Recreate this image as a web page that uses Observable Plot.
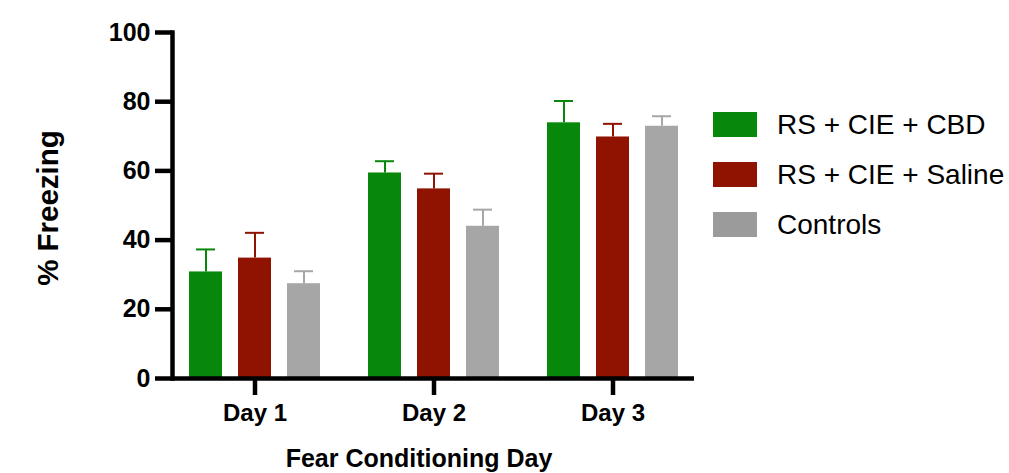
<!DOCTYPE html>
<html>
<head>
<meta charset="utf-8">
<script src="https://cdn.jsdelivr.net/npm/d3@7"></script>
<script src="https://cdn.jsdelivr.net/npm/@observablehq/plot@0.6"></script>
<style>
  html, body { margin: 0; padding: 0; background: #fff; }
  #wrap { position: relative; width: 1009px; height: 473px; font-family: "Liberation Sans", Arial, sans-serif; }
  #wrap svg { position: absolute; left: 0; top: 0; }
  .ytitle { position: absolute; left: 48px; top: 208px; transform: translate(-50%, -50%) rotate(-90deg); font-weight: bold; font-size: 29.5px; white-space: nowrap; color: #000; }
  .xtitle { position: absolute; left: 419px; top: 458px; transform: translate(-50%, -50%); font-weight: bold; font-size: 25px; white-space: nowrap; color: #000; }
  .legend { position: absolute; left: 713px; top: 112px; }
  .row { display: flex; align-items: center; height: 25px; margin-bottom: 25px; }
  .sw { width: 44px; height: 25px; margin-right: 20px; }
  .lab { font-size: 28px; color: #000; white-space: nowrap; }
</style>
</head>
<body>
<div id="wrap"></div>
<script>
// Data
const days = ["Day 1", "Day 2", "Day 3"];
const groups = ["RS + CIE + CBD", "RS + CIE + Saline", "Controls"];
const cbd = [30.8, 59.4, 73.9];
const cbdErr = [6.5, 3.4, 6.3];
const saline = [34.8, 54.8, 69.8];
const salineErr = [7.3, 4.4, 3.8];
const controls = [27.4, 44.0, 72.9];
const controlsErr = [3.6, 4.8, 2.9];
const yTicks = [0, 20, 40, 60, 80, 100];

const colors = ["#07880a", "#8f1300", "#a6a6a6"];
const legendColors = ["#07880a", "#8f1300", "#9b9b9b"];
const offsets = [-49, 0, 49];

const series = [cbd, saline, controls].map((vals, g) =>
  days.map((day, i) => ({day, group: groups[g], value: vals[i], err: [cbdErr, salineErr, controlsErr][g][i]}))
);

const marks = [];
series.forEach((rows, g) => {
  marks.push(Plot.barY(rows, {x: "day", y: "value", fill: colors[g], dx: offsets[g]}));
  marks.push(Plot.ruleX(rows, {x: "day", y1: "value", y2: d => d.value + d.err, stroke: colors[g], strokeWidth: 2, dx: offsets[g]}));
  marks.push(Plot.tickY(rows, {x: "day", y: d => d.value + d.err, stroke: colors[g], strokeWidth: 2, dx: offsets[g], insetLeft: 7, insetRight: 7}));
});

const chart = Plot.plot({
  width: 1009,
  height: 473,
  marginLeft: 172,
  marginRight: 315,
  marginTop: 32,
  marginBottom: 95,
  style: {background: "white", fontFamily: "Liberation Sans, Arial, sans-serif", color: "#000", overflow: "visible"},
  x: {type: "band", domain: days, paddingInner: 0.8184, paddingOuter: 0.3673, align: 0.5, label: null},
  y: {domain: [0, 100], label: null},
  marks: [
    ...marks,
    Plot.ruleY([0], {stroke: "#000", strokeWidth: 4.5}),
    Plot.frame({anchor: "left", stroke: "#000", strokeWidth: 4.5, strokeOpacity: 1}),
    Plot.axisY({ticks: yTicks, tickSize: 17, tickPadding: 5, stroke: "#000", strokeWidth: 4.5, strokeOpacity: 1, fontSize: 25, fontWeight: "bold", label: null}),
    Plot.axisX({tickSize: 17, tickPadding: 8, stroke: "#000", strokeWidth: 4.5, strokeOpacity: 1, fontSize: 24, fontWeight: "bold", label: null})
  ]
});

d3.select(chart).selectAll('[aria-label="frame"], [aria-label="frame"] *')
  .attr("stroke-width", 4.5).attr("stroke", "#000").attr("shape-rendering", null);

const wrap = document.getElementById("wrap");
wrap.appendChild(chart);

const yt = document.createElement("div");
yt.className = "ytitle"; yt.textContent = "% Freezing"; wrap.appendChild(yt);
const xt = document.createElement("div");
xt.className = "xtitle"; xt.textContent = "Fear Conditioning Day"; wrap.appendChild(xt);

const leg = document.createElement("div");
leg.className = "legend";
groups.forEach((g, i) => {
  const row = document.createElement("div"); row.className = "row";
  const sw = document.createElement("div"); sw.className = "sw"; sw.style.background = legendColors[i];
  const lab = document.createElement("div"); lab.className = "lab"; lab.textContent = g;
  row.appendChild(sw); row.appendChild(lab); leg.appendChild(row);
});
wrap.appendChild(leg);
</script>
</body>
</html>
